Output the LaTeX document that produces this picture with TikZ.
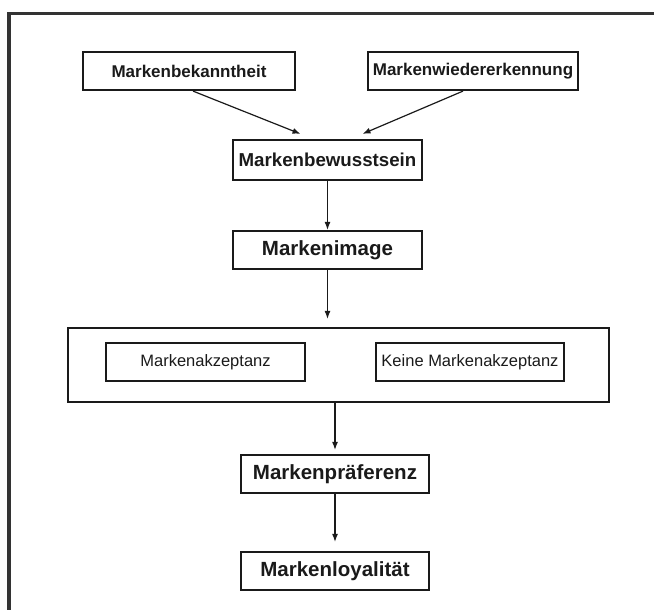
\documentclass[tikz,border=0pt]{standalone}
\usepackage{fontspec}
\setmainfont{Liberation Sans}
\usetikzlibrary{positioning,arrows.meta}
\definecolor{framegray}{HTML}{333333}
\definecolor{inkgray}{HTML}{1A1A1A}

\begin{document}
\begin{tikzpicture}[>={Latex[length=8pt,width=6pt]},on grid,
    markbox/.style={draw=inkgray,line width=2.2pt,minimum height=38pt,inner sep=0pt,text=inkgray},
    topbox/.style={markbox,font=\bfseries\fontsize{17pt}{20pt}\selectfont},
    midbox/.style={markbox,minimum height=40pt,font=\bfseries\fontsize{18.7pt}{22pt}\selectfont},
    bigbox/.style={markbox,font=\bfseries\fontsize{20.5pt}{24pt}\selectfont},
    subbox/.style={markbox,font=\fontsize{16.5pt}{20pt}\selectfont}]
    \useasboundingbox (0pt,0pt) rectangle (654pt,-610pt);
    % frame of the screenshot
    \draw[framegray,line width=3.5pt] (9pt,-610pt) -- (9pt,-13.5pt) -- (654pt,-13.5pt);
    \node[topbox,minimum width=212pt] (bek) at (189pt,-71pt) {Markenbekanntheit};
    \node[topbox,minimum width=210pt] (wie) [right=284pt of bek] {Markenwiedererkennung};
    \node[midbox,minimum width=189pt] (bew) [below right=89pt and 138.5pt of bek] {Markenbewusstsein};
    \node[bigbox,minimum width=189pt] (img) [below=90pt of bew] {Markenimage};
    \node[markbox,minimum width=541pt,minimum height=74pt] (akzrahmen) [below right=115pt and 11pt of img] {};
    \node[subbox,minimum width=199pt] (akz) [above left=3pt and 133pt of akzrahmen] {Markenakzeptanz};
    \node[subbox,minimum width=188pt] (kak) [above right=3pt and 131.5pt of akzrahmen] {Keine Markenakzeptanz};
    \node[bigbox,minimum width=188pt] (pref) [below left=109pt and 3.5pt of akzrahmen] {Markenpräferenz};
    \node[bigbox,minimum width=188pt] (loy) [below=97pt of pref] {Markenloyalität};
    \coordinate (bewL) at ([xshift=-27pt,yshift=5pt]bew.north);
    \coordinate (bewR) at ([xshift=35pt,yshift=5pt]bew.north);
    \path[->,line width=1.2pt,inkgray]
    % top edges
    ([xshift=4pt]bek.south) edge (bewL)
    ([xshift=-10pt]wie.south) edge (bewR)
    % chain downwards
    (bew) edge (img)
    (img.south) edge [shorten >=8pt] (img.south |- akzrahmen.north)
    (pref.north |- akzrahmen.south) edge [shorten >=4pt] (pref.north)
    (pref) edge [shorten >=9pt] (loy);
\end{tikzpicture}
\end{document}
